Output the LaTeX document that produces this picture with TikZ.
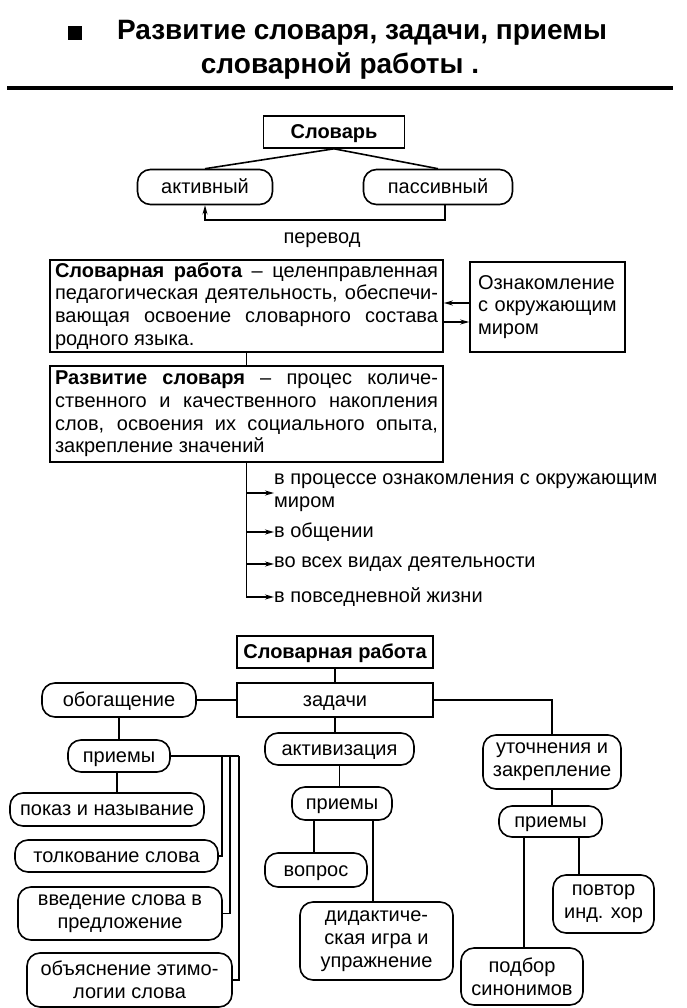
\documentclass[tikz,border=0pt]{standalone}
\usepackage{fontspec}
\setmainfont{Liberation Sans}
\usetikzlibrary{arrows.meta, positioning, calc}

\begin{document}
\begin{tikzpicture}[x=1pt, y=-1pt,
        every node/.style={font=\fontsize{20}{22.7}\selectfont},
        box/.style={draw, line width=1.6pt, inner xsep=5pt, inner ysep=2pt},
        pill/.style={draw, line width=1.6pt, rounded corners=13pt, inner sep=0pt, align=center},
        single/.style={text height=16pt, text depth=3.5pt},
        txt/.style={inner sep=0pt, align=left},
        link/.style={line width=1.6pt},
        rel/.style={line width=1.6pt, -{Stealth[length=9pt, width=5pt]}}
    ]
        \useasboundingbox (0,0) rectangle (686,1008);
        \fill (68,26) rectangle (82,40);
        \node[font=\fontsize{28}{32}\selectfont\bfseries] (title1) at (362,33) {Развитие словаря, задачи, приемы};
        \node[font=\fontsize{28}{32}\selectfont\bfseries] (title2) at (340,66) {словарной работы .};
        \draw[line width=4pt] (7,88) -- (673,88);

        \node[box, single, minimum width=141, minimum height=32, font=\fontsize{20}{22.7}\selectfont\bfseries] (slovar) at (334,132) {Словарь};
        \node[pill, single, minimum width=135, minimum height=35] (aktiv) at (205,187) {активный};
        \node[pill, single, minimum width=149, minimum height=35] (passiv) at (438,187) {пассивный};
        \draw[link] (slovar.south) -- (aktiv.north);
        \draw[link] (slovar.south) -- (passiv.north);
        \draw[rel] ([xshift=7pt]passiv.south) -- ++(0,15) -| (aktiv.south);
        \node[txt] (perevod) at (322,240) {перевод};

        \node[box, text width=383, minimum height=92, align=justify] (def1) at (246.5,306)
            {{\bfseries Словарная работа} – целенправленная\linebreak педагогическая деятельность, обеспечи-\linebreak вающая освоение словарного состава\linebreak родного языка.};
        \node[box, inner xsep=8pt, text width=139, minimum height=90, align=left] (oznak) at (547.5,307)
            {Ознакомление\\с окружающим\\миром};
        \draw[rel] ([yshift=4pt]oznak.west) -- ([yshift=4pt]oznak.west -| def1.east);
        \draw[rel] ([yshift=-16pt]def1.east) -- ([yshift=-16pt]def1.east -| oznak.west);
        \node[box, text width=383, minimum height=96, align=justify] (def2) at (246.5,414)
            {{\bfseries Развитие словаря} – процес количе-\linebreak ственного и качественного накопления\linebreak слов, освоения их социального опыта,\linebreak закрепление значений};
        \draw[link] (def1.south) -- (def2.north);

        \node[txt, anchor=west] (way1) at (274,493) {в процессе ознакомления с окружающим\\миром};
        \node[txt, anchor=west] (way2) at (274,532) {в общении};
        \node[txt, anchor=west] (way3) at (274,564) {во всех видах деятельности};
        \node[txt, anchor=west] (way4) at (274,597) {в повседневной жизни};
        \draw[rel] (def2.south) |- (way4.west);
        \draw[rel] (def2.south |- way1.west) -- (way1.west);
        \draw[rel] (def2.south |- way2.west) -- (way2.west);
        \draw[rel] (def2.south |- way3.west) -- (way3.west);

        \node[box, single, minimum width=196, minimum height=32, font=\fontsize{20}{22.7}\selectfont\bfseries] (sr) at (335,652) {Словарная работа};
        \node[box, single, minimum width=196, minimum height=34] (zadachi) at (335,700) {задачи};
        \node[pill, single, minimum width=154, minimum height=34] (obog) at (119,700) {обогащение};
        \node[pill, single, minimum width=149, minimum height=32] (aktiviz) at (339.5,749) {активизация};
        \node[pill, minimum width=138, minimum height=54] (utoch) at (552,762) {уточнения и\\закрепление};
        \node[pill, single, minimum width=102, minimum height=32] (priem1) at (119,756) {приемы};
        \node[pill, single, minimum width=100, minimum height=33] (priem2) at (342,803.5) {приемы};
        \node[pill, single, minimum width=103, minimum height=31] (priem3) at (550.5,821.5) {приемы};
        \node[pill, single, minimum width=194, minimum height=33] (pokaz) at (107,809.5) {показ и называние};
        \node[pill, single, minimum width=203, minimum height=32] (tolk) at (116.5,856) {толкование слова};
        \node[pill, minimum width=204, minimum height=53] (vved) at (120,913.5) {введение слова в\\предложение};
        \node[pill, minimum width=205, minimum height=54] (obyas) at (129.5,980) {объяснение этимо-\\логии слова};
        \node[pill, single, minimum width=102, minimum height=34] (vopros) at (316,870) {вопрос};
        \node[pill, minimum width=153, minimum height=78] (didakt) at (376.5,941) {дидактиче-\\ская игра и\\упражнение};
        \node[pill, minimum width=101, minimum height=58] (povtor) at (603.5,904) {повтор\\инд. хор};
        \node[pill, minimum width=122, minimum height=57] (podbor) at (522,976.5) {подбор\\синонимов};

        \draw[link] (sr.south) -- (zadachi.north);
        \draw[link] (obog.east) -- (zadachi.west);
        \draw[link] (zadachi.east) -| (utoch.north);
        \draw[link] (zadachi.south) -- (zadachi.south |- aktiviz.north);
        \draw[link] (obog.south) -- (priem1.north);
        \draw[link] ([xshift=-2pt]priem1.south) -- ([xshift=-2pt]priem1.south |- pokaz.north);
        \draw[link] (aktiviz.south) -- (aktiviz.south |- priem2.north);
        \draw[link] (utoch.south) -- (utoch.south |- priem3.north);
        \draw[link] ([xshift=-28pt]priem2.south) -- ([xshift=-28pt]priem2.south |- vopros.north);
        \draw[link] ([xshift=31pt]priem2.south) -- ([xshift=31pt]priem2.south |- didakt.north);
        \draw[link] ([xshift=-26.5pt]priem3.south) -- ([xshift=-26.5pt]priem3.south |- podbor.north);
        \draw[link] ([xshift=28.5pt]priem3.south) -- ([xshift=28.5pt]priem3.south |- povtor.north);

        \coordinate (brA) at (222,756);
        \coordinate (brB) at (230,756);
        \coordinate (brC) at (239,756);
        \draw[link] (priem1.east) -- (brC);
        \draw[link] (brA) |- (tolk.east);
        \draw[link] (brB) |- (vved.east);
        \draw[link] (brC) |- (obyas.east);
    \end{tikzpicture}
\end{document}
